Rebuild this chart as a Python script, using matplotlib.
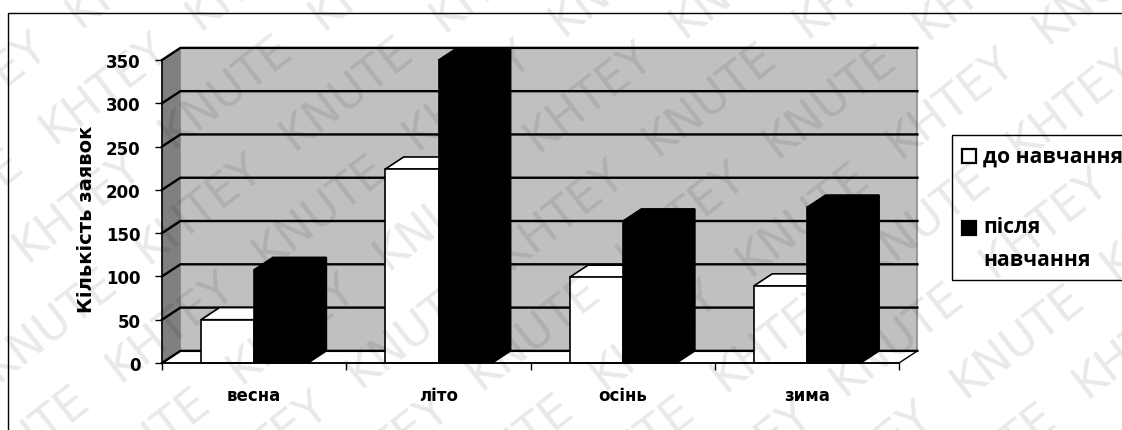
"""Grouped pseudo-3D column chart: requests per season before and after training."""

import math

import matplotlib

matplotlib.use("Agg")
import matplotlib.pyplot as plt
from matplotlib.patches import Polygon, Rectangle

WIDTH, HEIGHT = 1122, 431

CATEGORIES = ["весна", "літо", "осінь", "зима"]
BEFORE = [50, 224, 99, 89]
AFTER = [108, 350, 164, 180]
Y_TICKS = [0, 50, 100, 150, 200, 250, 300, 350]
Y_LABEL = "Кількість заявок"
LEGEND_BEFORE = "до навчання"
LEGEND_AFTER = ["після", "навчання"]
STAMP_WORDS = ["KHTEY", "KNUTE"]

# depth of the fake 3D box, in data units
DEPTH_X = 0.1
DEPTH_Y = 14
BAR_W = 0.29
BAR_START = 0.212


def px(x, y):
    """Pixel position (from top left) to figure fraction."""
    return x / WIDTH, 1 - y / HEIGHT


def draw_box(ax):
    n = len(CATEGORIES)
    top = Y_TICKS[-1]
    ax.add_patch(Polygon(
        [(DEPTH_X, DEPTH_Y), (n + DEPTH_X, DEPTH_Y), (n + DEPTH_X, top + DEPTH_Y), (DEPTH_X, top + DEPTH_Y)],
        facecolor="#c0c0c0", edgecolor="#8a8a8a", linewidth=1.2, zorder=1, clip_on=False,
    ))
    ax.add_patch(Polygon(
        [(0, 0), (DEPTH_X, DEPTH_Y), (DEPTH_X, top + DEPTH_Y), (0, top)],
        facecolor="#808080", edgecolor="none", zorder=1, clip_on=False,
    ))
    ax.add_patch(Polygon(
        [(0, 0), (n, 0), (n + DEPTH_X, DEPTH_Y), (DEPTH_X, DEPTH_Y)],
        facecolor="white", edgecolor="black", linewidth=1.0, zorder=1, clip_on=False,
    ))
    # gridlines run up the side wall and across the back wall
    for tick in Y_TICKS:
        ax.plot([0, DEPTH_X, n + DEPTH_X], [tick, tick + DEPTH_Y, tick + DEPTH_Y],
                color="black", linewidth=1.7, zorder=2, clip_on=False, solid_joinstyle="miter")


def draw_bar(ax, x0, value, color, zorder):
    x1 = x0 + BAR_W
    ax.add_patch(Polygon(
        [(x0, value), (x1, value), (x1 + DEPTH_X, value + DEPTH_Y), (x0 + DEPTH_X, value + DEPTH_Y)],
        facecolor=color, edgecolor="black", linewidth=1.2, zorder=zorder, clip_on=False,
    ))
    ax.add_patch(Polygon(
        [(x1, 0), (x1 + DEPTH_X, DEPTH_Y), (x1 + DEPTH_X, value + DEPTH_Y), (x1, value)],
        facecolor=color, edgecolor="black", linewidth=1.2, zorder=zorder, clip_on=False,
    ))
    ax.add_patch(Rectangle(
        (x0, 0), BAR_W, value,
        facecolor=color, edgecolor="black", linewidth=1.2, zorder=zorder + 0.1, clip_on=False,
    ))


def draw_legend(fig):
    x0, y0 = px(952, 281)
    x1, y1 = px(1125, 136)
    fig.add_artist(Rectangle((x0, y0), x1 - x0, y1 - y0, transform=fig.transFigure,
                             facecolor="white", edgecolor="black", linewidth=1.0, zorder=5))
    for color, y_pos in [("white", 157), ("black", 229)]:
        xs, ys = px(962, y_pos - 7)
        xe, ye = px(976, y_pos + 7)
        fig.add_artist(Rectangle((xs, ye), xe - xs, ys - ye, transform=fig.transFigure,
                                 facecolor=color, edgecolor="black", linewidth=1.6, zorder=6))
    style = dict(fontsize=15.2, fontweight="bold", family="Open Sans", va="center", ha="left", zorder=6)
    fig.text(*px(983, 157), LEGEND_BEFORE, **style)
    fig.text(*px(983, 228), LEGEND_AFTER[0], **style)
    fig.text(*px(983, 261), LEGEND_AFTER[1], **style)


def draw_watermark(fig):
    # diagonal stamp rows repeated over the whole page
    angle = math.radians(38)
    pitch, spacing = 188, 76
    for row in range(-8, 9):
        for col in range(-6, 7):
            along = col * pitch + (row % 2) * pitch / 2
            across = row * spacing
            x = 561 + along * math.cos(angle) + across * math.sin(angle)
            y = 215 - along * math.sin(angle) + across * math.cos(angle)
            if -80 < x < WIDTH + 80 and -80 < y < HEIGHT + 80:
                fig.text(*px(x, y), STAMP_WORDS[col % 2], fontsize=33, color="black", alpha=0.09,
                         rotation=38, rotation_mode="anchor", ha="center", va="center", zorder=20)


def main():
    fig = plt.figure(figsize=(WIDTH / 100, HEIGHT / 100), dpi=100)
    fig.patch.set_facecolor("white")

    left, bottom = px(162, 364)
    right, top = px(899, 61)
    ax = fig.add_axes([left, bottom, right - left, top - bottom])
    ax.set_facecolor("none")
    ax.set_xlim(0, len(CATEGORIES))
    ax.set_ylim(0, Y_TICKS[-1])

    # page frame, open at the bottom and right
    fig.add_artist(plt.Line2D(*zip(px(8, HEIGHT), px(8, 14), px(WIDTH, 14)), color="black", linewidth=1.0))

    draw_box(ax)
    for i, (before, after) in enumerate(zip(BEFORE, AFTER)):
        draw_bar(ax, i + BAR_START, before, "white", 3)
        draw_bar(ax, i + BAR_START + BAR_W, after, "black", 4)

    for side in ["top", "right"]:
        ax.spines[side].set_visible(False)
    ax.spines["left"].set_linewidth(1.2)
    ax.spines["bottom"].set_linewidth(1.2)
    ax.spines["left"].set_zorder(6)
    ax.spines["bottom"].set_zorder(6)

    ax.set_xticks(range(len(CATEGORIES) + 1))
    ax.set_xticklabels([])
    ax.set_xticks([i + 0.5 for i in range(len(CATEGORIES))], CATEGORIES, minor=True)
    ax.tick_params(axis="x", which="major", length=5, width=1.0)
    ax.tick_params(axis="x", which="minor", length=0, pad=16.5, labelsize=12)
    ax.set_yticks(Y_TICKS)
    ax.tick_params(axis="y", length=5, width=1.0, pad=10.5, labelsize=12)
    for label in ax.get_xticklabels(minor=True) + ax.get_yticklabels():
        label.set_fontweight("bold")
    fig.text(*px(87, 219), Y_LABEL, fontsize=14, fontweight="bold", rotation=90, ha="center", va="center")

    draw_legend(fig)
    draw_watermark(fig)

    fig.savefig("out.png", dpi=100)
    plt.close(fig)


if __name__ == "__main__":
    main()
